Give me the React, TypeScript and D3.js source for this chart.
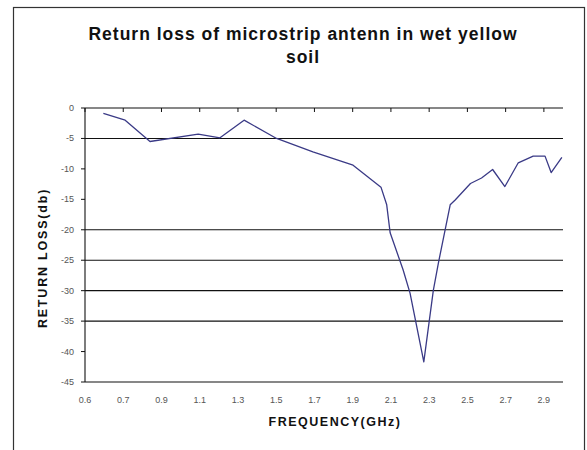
import React from 'react';
import * as d3 from 'd3';

// category labels shown along the frequency axis (positions 0..12)
const freqLabels = ['0.6', '0.7', '0.9', '1.1', '1.3', '1.5', '1.7', '1.9', '2.1', '2.3', '2.5', '2.7', '2.9'];

// measured points: position on the category axis and return loss (dB)
const positions = [
  0.48, 1.05, 1.7, 2.96, 3.53, 4.16, 5.01, 5.96, 7.01, 7.74, 7.89, 7.98, 8.32, 8.5,
  8.86, 9.11, 9.24, 9.55, 9.68, 10.08, 10.37, 10.66, 10.98, 11.33, 11.72, 12.03, 12.19, 12.47,
];
const returnLoss = [
  -0.9, -2.0, -5.5, -4.3, -4.9, -2.0, -5.0, -7.2, -9.4, -13.0, -15.9, -20.5, -26.6, -30.4,
  -41.7, -29.9, -25.5, -15.9, -15.1, -12.4, -11.5, -10.1, -12.9, -9.0, -7.9, -7.9, -10.6, -8.1,
];

const yTicks = [0, -5, -10, -15, -20, -25, -30, -35, -40, -45];
const gridValues = [-5, -20, -25, -30, -35, -45];

const W = 587;
const H = 450;
const plot = { left: 85, right: 563, top: 108, bottom: 382 };

export default function App() {
  const x = d3.scaleLinear().domain([0, 12.5]).range([plot.left, plot.right]);
  const y = d3.scaleLinear().domain([0, -45]).range([plot.top, plot.bottom]);

  const points = positions.map((p, i) => [p, returnLoss[i]] as [number, number]);
  const line = d3
    .line<[number, number]>()
    .x((d) => x(d[0]))
    .y((d) => y(d[1]));

  const font = 'Arial, "Liberation Sans", sans-serif';

  return (
    <div style={{ position: 'absolute', left: 0, top: 0 }}>
      <svg width={W} height={H} style={{ display: 'block', background: '#fff' }}>
        <rect x={13.5} y={7.5} width={571} height={460} fill="#fff" stroke="#333" strokeWidth={1.2} />

        <text
          x={303}
          y={40}
          textAnchor="middle"
          fontFamily={font}
          fontWeight="bold"
          fontSize={17.5}
          letterSpacing={1}
          fill="#111"
        >
          Return loss of microstrip antenn in wet yellow
        </text>
        <text
          x={303}
          y={63}
          textAnchor="middle"
          fontFamily={font}
          fontWeight="bold"
          fontSize={17.5}
          letterSpacing={1}
          fill="#111"
        >
          soil
        </text>

        {gridValues.map((v) => (
          <line key={v} x1={plot.left} x2={plot.right} y1={y(v)} y2={y(v)} stroke="#111" strokeWidth={1.1} />
        ))}

        {/* category axis crossing at 0 */}
        <line x1={plot.left} x2={plot.right} y1={y(0)} y2={y(0)} stroke="#111" strokeWidth={1.1} />
        {freqLabels.map((_l, i) => (
          <line key={i} x1={x(i)} x2={x(i)} y1={y(0)} y2={y(0) + 4} stroke="#111" strokeWidth={1} />
        ))}

        {/* value axis */}
        <line x1={plot.left} x2={plot.left} y1={plot.top} y2={plot.bottom} stroke="#111" strokeWidth={1.1} />
        {yTicks.map((v) => (
          <g key={v}>
            <line x1={plot.left - 4} x2={plot.left} y1={y(v)} y2={y(v)} stroke="#111" strokeWidth={1} />
            <text x={plot.left - 11} y={y(v) + 3} textAnchor="end" fontFamily={font} fontSize={9} fill="#555">
              {v}
            </text>
          </g>
        ))}

        {freqLabels.map((l, i) => (
          <text key={l + i} x={x(i)} y={403} textAnchor="middle" fontFamily={font} fontSize={9} fill="#555">
            {l}
          </text>
        ))}

        <path d={line(points) ?? ''} fill="none" stroke="#3a3a86" strokeWidth={1.3} strokeLinejoin="round" />

        <text
          x={335}
          y={426}
          textAnchor="middle"
          fontFamily={font}
          fontWeight="bold"
          fontSize={12.5}
          letterSpacing={1.5}
          fill="#111"
        >
          FREQUENCY(GHz)
        </text>
        <text
          transform={`translate(47, 258) rotate(-90)`}
          textAnchor="middle"
          fontFamily={font}
          fontWeight="bold"
          fontSize={12.5}
          letterSpacing={1.8}
          fill="#111"
        >
          RETURN LOSS(db)
        </text>
      </svg>
    </div>
  );
}
